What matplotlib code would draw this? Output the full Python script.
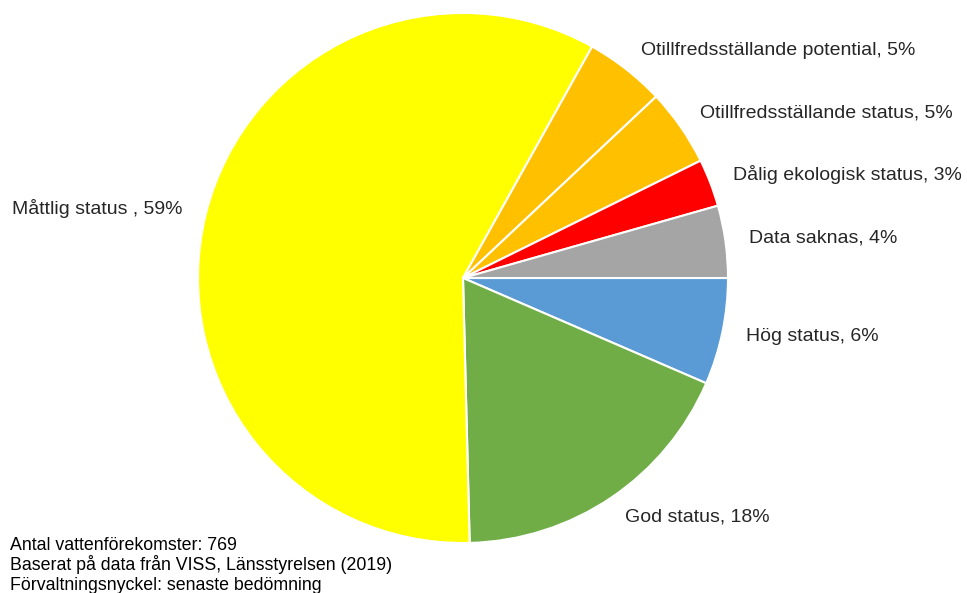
import matplotlib
matplotlib.use("Agg")
import matplotlib.pyplot as plt

plt.rcParams['font.family'] = ['Liberation Sans', 'DejaVu Sans']

# shares, clockwise from 3 o'clock
categories = ['Hög status', 'God status', 'Måttlig status ', 'Otillfredsställande potential',
              'Otillfredsställande status', 'Dålig ekologisk status', 'Data saknas']
shares = [6.5, 18.1, 58.5, 4.9, 4.7, 2.9, 4.4]
label_pct = ['6%', '18%', '59%', '5%', '5%', '3%', '4%']
colors = ['#5B9BD5', '#70AD47', '#FFFF00', '#FFC000', '#FFC000', '#FF0000', '#A5A5A5']
notes = ['Antal vattenförekomster: 769',
         'Baserat på data från VISS, Länsstyrelsen (2019)',
         'Förvaltningsnyckel: senaste bedömning']

W, H = 967, 593
cx, cy, r = 463, 278, 265

fig = plt.figure(figsize=(W / 100, H / 100), dpi=100)
ax = fig.add_axes([0, 0, 1, 1])

labels = [f'{c}, {p}' for c, p in zip(categories, label_pct)]
ax.pie(shares, labels=labels, colors=colors, startangle=0, counterclock=False,
       labeldistance=1.09,
       wedgeprops=dict(edgecolor='white', linewidth=1.5),
       textprops=dict(fontsize=14, color='#262626'))

ax.set_xlim(-cx / r, (W - cx) / r)
ax.set_ylim(-(H - cy) / r, cy / r)
ax.set_aspect('auto')
ax.axis('off')

for i, line in enumerate(notes):
    fig.text(10 / W, 1 - (545 + 20 * i) / H, line, fontsize=12.8, va='center', ha='left', color='black')

fig.savefig('out.png', dpi=100)
